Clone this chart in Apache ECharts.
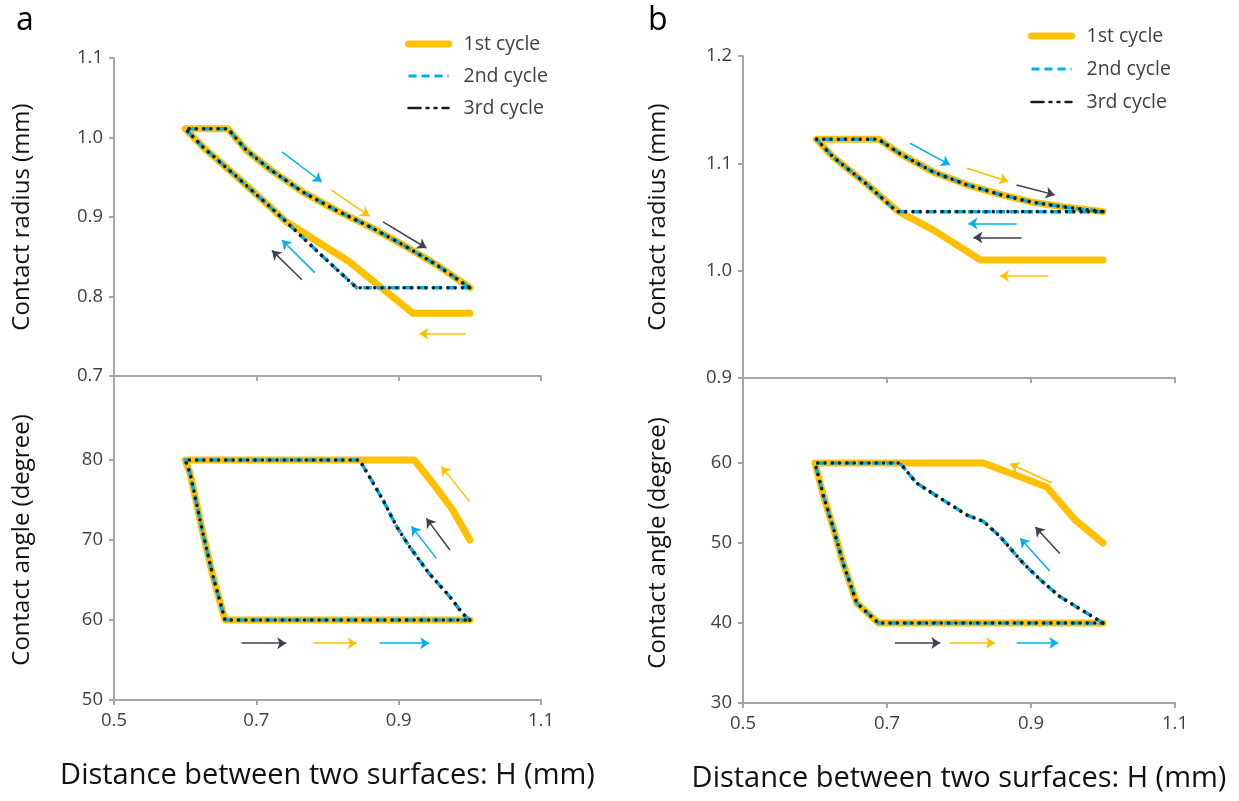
<!DOCTYPE html>
<html><head><meta charset="utf-8">
<script src="https://cdn.jsdelivr.net/npm/echarts@6/dist/echarts.min.js"></script>
<style>html,body{margin:0;padding:0;background:#fff}#c{width:1239px;height:801px}</style>
</head><body><div id="c"></div>
<script>
// ---------- DATA ----------
const cycleNames = ['1st cycle', '2nd cycle', '3rd cycle'];
const xTicks = [0.5, 0.7, 0.9, 1.1];

// Panel a - contact radius (mm) vs H (mm)
const aRadH1 = [1.0, 0.92, 0.83, 0.742, 0.719, 0.672, 0.625, 0.6, 0.66, 0.686, 0.719, 0.766, 0.813, 0.859, 0.906, 0.953, 1.0];
const aRadR1 = [0.779, 0.779, 0.844, 0.894, 0.913, 0.951, 0.988, 1.011, 1.011, 0.984, 0.960, 0.931, 0.908, 0.888, 0.865, 0.840, 0.811];
const aRadH2 = [1.0, 0.841, 0.789, 0.742, 0.719, 0.672, 0.625, 0.6, 0.66, 0.686, 0.719, 0.766, 0.813, 0.859, 0.906, 0.953, 1.0];
const aRadR2 = [0.811, 0.811, 0.854, 0.894, 0.913, 0.951, 0.988, 1.011, 1.011, 0.984, 0.960, 0.931, 0.908, 0.888, 0.865, 0.840, 0.811];
const aRadH3 = aRadH2.slice();
const aRadR3 = aRadR2.slice();
const aRadTicks = [0.7, 0.8, 0.9, 1.0, 1.1];

// Panel a - contact angle (degree) vs H (mm)
const aAngH1 = [1.0, 0.976, 0.948, 0.922, 0.6, 0.607, 0.625, 0.639, 0.656, 1.0];
const aAngA1 = [70, 73.75, 77.1, 80, 80, 78.3, 70.8, 65.5, 60, 60];
const aAngH2 = [1.0, 0.99, 0.972, 0.943, 0.915, 0.897, 0.878, 0.859, 0.845, 0.6, 0.607, 0.625, 0.639, 0.656, 1.0];
const aAngA2 = [60, 60.8, 62.9, 65.8, 69.2, 71.7, 75, 77.9, 80, 80, 78.3, 70.8, 65.5, 60, 60];
const aAngH3 = aAngH2.slice();
const aAngA3 = aAngA2.slice();
const aAngTicks = [50, 60, 70, 80];

// Panel b - contact radius (mm) vs H (mm)
const bRadH1 = [1.0, 0.83, 0.764, 0.714, 0.671, 0.625, 0.602, 0.688, 0.718, 0.764, 0.811, 0.857, 0.90, 0.95, 1.0];
const bRadR1 = [1.010, 1.010, 1.038, 1.056, 1.081, 1.106, 1.1225, 1.1225, 1.109, 1.092, 1.080, 1.071, 1.064, 1.059, 1.055];
const bRadH2 = [1.0, 0.714, 0.671, 0.625, 0.602, 0.688, 0.718, 0.764, 0.811, 0.857, 0.90, 0.95, 1.0];
const bRadR2 = [1.055, 1.055, 1.081, 1.106, 1.1225, 1.1225, 1.109, 1.092, 1.080, 1.071, 1.064, 1.059, 1.055];
const bRadH3 = bRadH2.slice();
const bRadR3 = bRadR2.slice();
const bRadTicks = [0.9, 1.0, 1.1, 1.2];

// Panel b - contact angle (degree) vs H (mm)
const bAngH1 = [1.0, 0.961, 0.922, 0.866, 0.834, 0.6, 0.612, 0.625, 0.639, 0.658, 0.688, 1.0];
const bAngA1 = [50, 52.9, 57, 58.9, 60, 60, 55.8, 52, 47.5, 42.5, 40, 40];
const bAngH2 = [1.0, 0.94, 0.913, 0.889, 0.857, 0.834, 0.811, 0.774, 0.741, 0.718, 0.6, 0.612, 0.625, 0.639, 0.658, 0.688, 1.0];
const bAngA2 = [40, 43.3, 45.4, 47.5, 50.8, 52.7, 53.5, 55.6, 57.5, 60, 60, 55.8, 52, 47.5, 42.5, 40, 40];
const bAngH3 = bAngH2.slice();
const bAngA3 = bAngA2.slice();
const bAngTicks = [30, 40, 50, 60];

// Direction arrows (annotation): [cycle index, x1, y1, x2, y2] in data units
const aRadArrows = [
  [1, 0.736, 0.982, 0.792, 0.944], [0, 0.805, 0.934, 0.859, 0.901], [2, 0.878, 0.894, 0.939, 0.861],
  [1, 0.782, 0.830, 0.736, 0.871], [2, 0.764, 0.821, 0.722, 0.858], [0, 0.994, 0.753, 0.929, 0.753]
];
const aAngArrows = [
  [0, 0.9996, 74.8, 0.96, 79.2], [2, 0.972, 68.75, 0.939, 72.7], [1, 0.953, 67.7, 0.918, 71.7],
  [2, 0.679, 57.1, 0.742, 57.1], [0, 0.78, 57.1, 0.841, 57.1], [1, 0.873, 57.1, 0.943, 57.1]
];
const bRadArrows = [
  [1, 0.732, 1.1187, 0.7875, 1.0985], [0, 0.811, 1.0954, 0.8685, 1.083], [2, 0.88, 1.0799, 0.933, 1.0706],
  [1, 0.88, 1.044, 0.813, 1.044], [2, 0.887, 1.031, 0.82, 1.031], [0, 0.924, 0.995, 0.857, 0.995]
];
const bAngArrows = [
  [2, 0.711, 37.5, 0.774, 37.5], [0, 0.7875, 37.5, 0.85, 37.5], [1, 0.88, 37.5, 0.938, 37.5],
  [0, 0.929, 57.5, 0.871, 59.9], [2, 0.94, 48.7, 0.906, 52.0], [1, 0.926, 46.5, 0.885, 50.6]
];

// ---------- STYLE / BUILD ----------
const FONT = '"Open Sans", "Noto Sans", sans-serif';
const ORANGE = '#FFC000', BLUE = '#00B0F0', BLACK = '#1a1a1a', ARROWBLACK = '#3C4150';
const arrowColors = [ORANGE, BLUE, ARROWBLACK];
const zip = (xs, ys) => xs.map((x, i) => [x, ys[i]]);

const grids = [
  {left: 114, top: 58, width: 427, height: 318},
  {left: 114, top: 380, width: 427, height: 320},
  {left: 743, top: 56, width: 432, height: 322},
  {left: 743, top: 383, width: 432, height: 320}
];
const axisLineStyle = {color: '#A6A6A6', width: 2};
const labelStyle = {color: '#404040', fontSize: 18.5, fontFamily: FONT};
const fmt1 = v => v.toFixed(1);

const xAxes = grids.map((g, i) => {
  const bottom = (i % 2 === 1);
  return {
    type: 'value', gridIndex: i, min: 0.5, max: 1.1,
    splitLine: {show: false},
    axisLine: {show: true, onZero: false, lineStyle: axisLineStyle},
    axisTick: {show: true, length: 5, lineStyle: axisLineStyle, customValues: xTicks},
    axisLabel: Object.assign({show: bottom, margin: 11, formatter: fmt1, customValues: xTicks}, labelStyle),
    name: bottom ? 'Distance between two surfaces: H (mm)' : '',
    nameLocation: 'middle', nameGap: 61,
    nameTextStyle: {color: '#111', fontSize: 29, fontFamily: FONT}
  };
});

const yDefs = [
  {min: 0.7, max: 1.1, ticks: aRadTicks, labels: aRadTicks, name: 'Contact radius (mm)', f: fmt1},
  {min: 50, max: 90, ticks: aAngTicks, labels: aAngTicks, name: 'Contact angle (degree)', f: v => String(v)},
  {min: 0.9, max: 1.2, ticks: bRadTicks, labels: bRadTicks, name: 'Contact radius (mm)', f: fmt1},
  {min: 30, max: 70, ticks: bAngTicks, labels: bAngTicks, name: 'Contact angle (degree)', f: v => String(v)}
];
const yAxes = yDefs.map((d, i) => ({
  type: 'value', gridIndex: i, min: d.min, max: d.max,
  splitLine: {show: false},
  axisLine: {show: true, onZero: false, lineStyle: axisLineStyle},
  axisTick: {show: true, length: 5, lineStyle: axisLineStyle, customValues: d.ticks},
  axisLabel: Object.assign({margin: 11, formatter: d.f, customValues: d.labels}, labelStyle),
  name: d.name, nameLocation: 'middle', nameGap: (i < 2 ? 80 : 73),
  nameTextStyle: {color: '#111', fontSize: 24, fontFamily: FONT}
}));

const panels = [
  [[aRadH1, aRadR1], [aRadH2, aRadR2], [aRadH3, aRadR3], aRadArrows],
  [[aAngH1, aAngA1], [aAngH2, aAngA2], [aAngH3, aAngA3], aAngArrows],
  [[bRadH1, bRadR1], [bRadH2, bRadR2], [bRadH3, bRadR3], bRadArrows],
  [[bAngH1, bAngA1], [bAngH2, bAngA2], [bAngH3, bAngA3], bAngArrows]
];
const cycleStyles = [
  {color: ORANGE, width: 7, type: 'solid', cap: 'round', join: 'round'},
  {color: BLUE, width: 3.5, type: [9, 5], cap: 'butt', join: 'round'},
  {color: BLACK, width: 3.6, type: [0.01, 7.3], cap: 'round', join: 'round'}
];

const series = [];
panels.forEach((p, gi) => {
  for (let c = 0; c < 3; c++) {
    series.push({
      type: 'line', name: cycleNames[c], xAxisIndex: gi, yAxisIndex: gi,
      data: zip(p[c][0], p[c][1]), symbol: 'none', smooth: false, silent: true,
      color: cycleStyles[c].color, lineStyle: cycleStyles[c], z: 2 + c
    });
  }
  series.push({
    type: 'line', name: 'arrows' + gi, xAxisIndex: gi, yAxisIndex: gi, data: [], symbol: 'none', silent: true,
    markLine: {
      silent: true, symbol: ['none', 'arrow'], symbolSize: 9, label: {show: false},
      data: p[3].map(a => [
        {coord: [a[1], a[2]], lineStyle: {color: arrowColors[a[0]], width: 1.5, type: 'solid'}, itemStyle: {color: arrowColors[a[0]]}},
        {coord: [a[3], a[4]]}
      ])
    }
  });
});

const hiddenSymbol = {color: 'rgba(0,0,0,0)', borderWidth: 0, opacity: 0};
const legendBase = {
  orient: 'vertical', itemWidth: 40, itemHeight: 14,
  textStyle: {color: '#404040', fontSize: 19.5, lineHeight: 22, fontFamily: FONT, padding: [0, 0, 0, 10]},
  data: [
    {name: '1st cycle', itemStyle: hiddenSymbol, lineStyle: {color: ORANGE, width: 7, type: 'solid', cap: 'round'}},
    {name: '2nd cycle', itemStyle: hiddenSymbol, lineStyle: {color: BLUE, width: 3, type: [8, 5]}},
    {name: '3rd cycle', itemStyle: hiddenSymbol, lineStyle: {color: BLACK, width: 2.5, type: [12, 6, 2, 6, 2, 6]}}
  ],
  selectedMode: false
};

const option = {
  animation: false,
  backgroundColor: '#fff',
  title: [
    {text: 'a', left: 11, top: 0, textStyle: {fontSize: 32, fontWeight: 'normal', color: '#000', fontFamily: FONT}},
    {text: 'b', left: 643, top: 0, textStyle: {fontSize: 32, fontWeight: 'normal', color: '#000', fontFamily: FONT}}
  ],
  legend: [
    Object.assign({}, legendBase, {left: 400, top: 28, itemGap: 10}),
    Object.assign({}, legendBase, {left: 1023, top: 20, itemGap: 11})
  ],
  grid: grids,
  xAxis: xAxes,
  yAxis: yAxes,
  series: series
};
const chart = echarts.init(document.getElementById('c'), null, {renderer: 'canvas'});
chart.setOption(option);
</script>
</body></html>
